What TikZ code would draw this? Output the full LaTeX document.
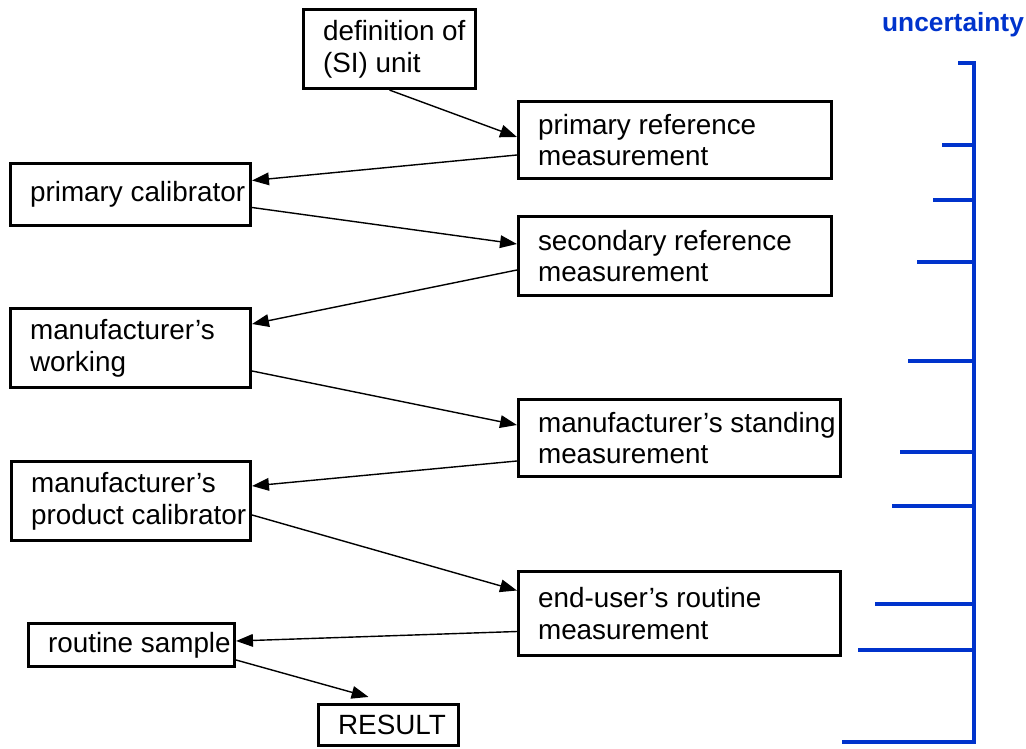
\documentclass[tikz,border=0pt]{standalone}
\usepackage{fontspec}
\setmainfont{Liberation Sans}
\usepackage{tikz}
\usetikzlibrary{arrows.meta,calc}
\definecolor{ublue}{RGB}{0,51,204}
\tikzstyle{box}=[draw,rectangle,line width=2.2pt,align=flush left,inner xsep=0.49cm,inner ysep=0pt,font=\fontsize{19.8}{22.5}\selectfont,execute at begin node={\spaceskip=5.5pt\relax}]
\tikzstyle{edge} = [draw,line width=1pt,-{Triangle[length=12pt,width=9pt]}]
\tikzstyle{ubar} = [draw,ublue,line width=3pt]
\tikzstyle{ulabel} = [text=ublue,font=\fontsize{18.7}{20}\selectfont\bfseries]

\begin{document}
\hyphenpenalty=10000
\exhyphenpenalty=10000
\begin{tikzpicture}[x=0.025cm,y=-0.025cm]
    \useasboundingbox (0,0) rectangle (1026,749);

    % boxes: position / name / width / height / text width / text
    \foreach \pos/\name/\boxw/\boxh/\textw/\txt in {
        {(389.5,49)/def/4.3/1.975/3.32/{definition~of\\(SI)~unit}},
        {(675,140)/primref/7.825/1.925/6.845/{primary~reference\\measurement}},
        {(130.5,194.5)/primcal/6.0/1.55/5.02/{primary~calibrator}},
        {(675,256)/secref/7.825/1.975/6.845/{secondary~reference\\measurement}},
        {(130.5,348)/manwork/6.0/1.975/5.02/{manufacturer’s\\working}},
        {(679.5,438)/manstand/8.05/1.925/7.07/{manufacturer’s~standing\\measurement}},
        {(131,501)/prodcal/5.975/1.975/4.995/{manufacturer’s\\product~calibrator}},
        {(679.5,613.5)/enduser/8.05/2.1/7.07/{end-user’s~routine\\measurement}},
        {(131.5,645)/routine/5.15/1.075/4.17/{routine~sample}},
        {(388.5,725)/result/3.5/1.025/2.52/{RESULT}}}
        \node[box,minimum width=\boxw cm,minimum height=\boxh cm,text width=\textw cm] (\name) at \pos {\txt};

    % arrows going left: measurement -> calibrator
    \foreach \source/\sy/\dest/\dy in {primref/15/primcal/-14, secref/14/manwork/-24, manstand/23/prodcal/-15, enduser/18/routine/-4}
        \path[edge] ($(\source.west)+(0,\sy)$) -- ($(\dest.east)+(0,\dy)$);
    % arrows going right: calibrator -> measurement
    \foreach \source/\sy/\dest/\dy in {primcal/13/secref/-12, manwork/23/manstand/-13, prodcal/14/enduser/-23}
        \path[edge] ($(\source.east)+(0,\sy)$) -- ($(\dest.west)+(0,\dy)$);
    \path[edge] (def.south) -- ($(primref.west)+(0,-3)$);
    \path[edge] ($(routine.east)+(0,15)$) -- ($(result.north)+(-20,-6)$);

    % uncertainty scale
    \node[ulabel,anchor=base] (ulabel) at (953,32) {uncertainty};
    \draw[ubar] (958,63) -- (974,63) -- (974,742) -- (842,742);
    \foreach \y/\x in {145/942, 200/933, 262/917, 361/908, 452/900, 506/892, 604/875, 650/858}
        \draw[ubar] (\x,\y) -- (974,\y);

\end{tikzpicture}
\end{document}
